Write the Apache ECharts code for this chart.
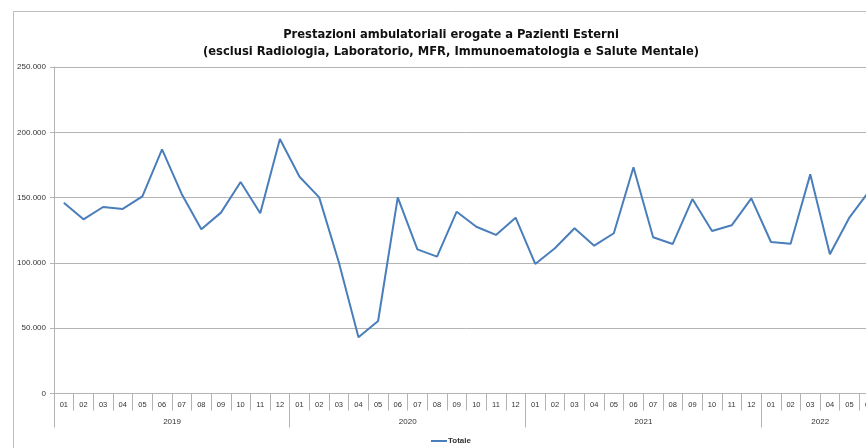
<!DOCTYPE html>
<html>
<head>
<meta charset="utf-8">
<script src="https://cdn.jsdelivr.net/npm/echarts@6/dist/echarts.min.js"></script>
<style>
  html, body { margin: 0; padding: 0; background: #fff; overflow: hidden; }
  /* the original picture is a crop of a wider chart, so the chart runs past the window */
  #chart { width: 891px; height: 448px; }
</style>
</head>
<body>
<div id="chart"></div>
<script>
// values (monthly totals)
const years = ['2019', '2020', '2021', '2022'];
const months = ['01', '02', '03', '04', '05', '06', '07', '08', '09', '10', '11', '12'];
const monthsPerYear = [12, 12, 12, 6];

const totale2019 = [146100, 133400, 142800, 141300, 151000, 187000, 152800, 125700, 138500, 162000, 138000, 194900];
const totale2020 = [166000, 150200, 100500, 43000, 55500, 150200, 110400, 104800, 139200, 127700, 121400, 134600];
const totale2021 = [99200, 111200, 126500, 113200, 122700, 173200, 119600, 114500, 148900, 124400, 128800, 149400];
const totale2022 = [116000, 114700, 167800, 106600, 134900, 155000];

const seriesName = 'Totale';
const titleText = 'Prestazioni ambulatoriali erogate a Pazienti Esterni\n(esclusi Radiologia, Laboratorio, MFR, Immunoematologia e Salute Mentale)';

// period keys like 2019-01, one per month shown
const periods = [];
years.forEach((y, i) => {
  for (let m = 0; m < monthsPerYear[i]; m++) periods.push(y + '-' + months[m]);
});
const totale = [].concat(totale2019, totale2020, totale2021, totale2022);

// year label sits in the middle of its block of months
const yearLabelAt = new Set();
let start = 0;
monthsPerYear.forEach((n) => {
  yearLabelAt.add(start + Math.floor(n / 2) - 1);
  start += n;
});

const gray = '#b4b4b4';
const labelFont = 'Liberation Sans, Arial, sans-serif';

const chart = echarts.init(document.getElementById('chart'), null, { renderer: 'canvas' });

chart.setOption({
  animation: false,
  backgroundColor: '#fff',
  title: {
    text: titleText,
    left: 446,
    top: 21,
    textAlign: 'center',
    textStyle: {
      fontFamily: 'Liberation Sans Narrow, DejaVu Sans Condensed, sans-serif',
      fontWeight: 'bold',
      fontSize: 12.8,
      lineHeight: 17,
      color: '#111'
    }
  },
  graphic: [{
    type: 'rect',
    silent: true,
    shape: { x: 13.5, y: 11.5, width: 876, height: 1000 },
    style: { fill: 'none', stroke: '#bdbdbd', lineWidth: 1 }
  }],
  legend: {
    data: [{ name: seriesName, icon: 'rect' }],
    left: 431,
    top: 437,
    padding: 0,
    itemWidth: 16,
    itemHeight: 2,
    textStyle: { fontFamily: labelFont, fontSize: 8, fontWeight: 'bold', color: '#333', padding: [0, 0, 0, -4] }
  },
  grid: { left: 54, right: 12, top: 67, bottom: 54.5, containLabel: false },
  xAxis: [{
    type: 'category',
    data: periods,
    boundaryGap: true,
    axisLine: { show: true, lineStyle: { color: gray } },
    axisTick: { show: true, interval: 0, length: 17, lineStyle: { color: gray } },
    axisLabel: {
      interval: 0,
      margin: 7,
      fontFamily: labelFont,
      fontSize: 7.5,
      color: '#333',
      formatter: (v) => v.slice(5)
    },
    splitLine: { show: false }
  }, {
    type: 'category',
    data: periods,
    position: 'bottom',
    boundaryGap: true,
    axisLine: { show: false },
    axisTick: {
      show: true,
      length: 34,
      interval: (i) => i % 12 === 0,
      lineStyle: { color: gray }
    },
    axisLabel: {
      margin: 24,
      interval: (i) => yearLabelAt.has(i),
      padding: [0, 0, 0, 20],
      fontFamily: labelFont,
      fontSize: 8,
      color: '#333',
      formatter: (v) => v.slice(0, 4)
    },
    splitLine: { show: false }
  }],
  yAxis: {
    type: 'value',
    min: 0,
    max: 250000,
    interval: 50000,
    axisLine: { show: true, lineStyle: { color: gray } },
    axisTick: { show: true, length: 4, lineStyle: { color: gray } },
    axisLabel: {
      margin: 8,
      fontFamily: labelFont,
      fontSize: 8,
      color: '#333',
      formatter: (v) => v.toLocaleString('de-DE')
    },
    splitLine: { show: true, lineStyle: { color: gray } }
  },
  series: [{
    name: seriesName,
    type: 'line',
    data: totale,
    symbol: 'none',
    lineStyle: { color: '#4a7ebb', width: 2 },
    itemStyle: { color: '#4a7ebb' }
  }]
});
</script>
</body>
</html>
